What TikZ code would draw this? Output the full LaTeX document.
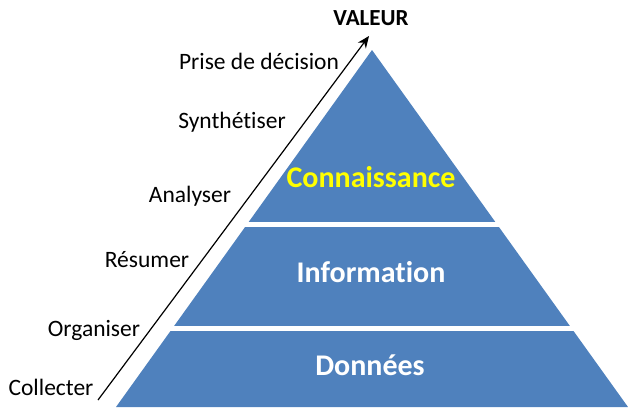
\documentclass[tikz,border=0pt]{standalone}
\usepackage{fontspec}
\setmainfont[Ligatures=NoCommon]{Carlito}
\usetikzlibrary{arrows.meta}
\definecolor{pyrblue}{HTML}{4F81BD}
\definecolor{pyryellow}{HTML}{FFFF00}
\tikzset{
  steplabel/.style={anchor=base, inner sep=0pt, font=\fontsize{23.5}{27}\selectfont, text=black},
  layerlabel/.style={anchor=base, inner sep=0pt, font=\fontsize{30}{34}\selectfont\bfseries},
  gapline/.style={white, line width=5pt},
}
\begin{document}
\begin{tikzpicture}[x=1pt,y=-1pt]
\useasboundingbox (0,0) rectangle (628,407);
% pyramid
\coordinate (apex) at (372,50);
\coordinate (bl) at (116,407);
\coordinate (br) at (628,407);
\fill[pyrblue] (apex) -- (bl) -- (br) -- cycle;
\draw[gapline] (200,224.5) -- (560,224.5);
\draw[gapline] (100,328.5) -- (628,328.5);
% layer labels
\node[layerlabel, text=pyryellow] (conn) at (371,187) {Connaissance};
\node[layerlabel, text=white] (info) at (371,282) {Information};
\node[layerlabel, text=white] (donn) at (370,375) {Données};
% arrow
\coordinate (tail) at (98,400);
\coordinate (tip) at (369,36);
\draw[line width=1.2pt, -{Stealth[length=12pt,width=10pt]}] (tail) -- (tip);
\node[anchor=base, inner sep=0pt, font=\fontsize{23}{26}\selectfont\bfseries] (valeur) at (371,25) {VALEUR};
% step labels
\node[steplabel] (s1) at (259,69) {Prise de décision};
\node[steplabel] (s2) at (232,128) {Synthétiser};
\node[steplabel] (s3) at (190,202) {Analyser};
\node[steplabel] (s4) at (147,267) {Résumer};
\node[steplabel] (s5) at (94,336) {Organiser};
\node[steplabel] (s6) at (51,395) {Collecter};
\end{tikzpicture}
\end{document}
